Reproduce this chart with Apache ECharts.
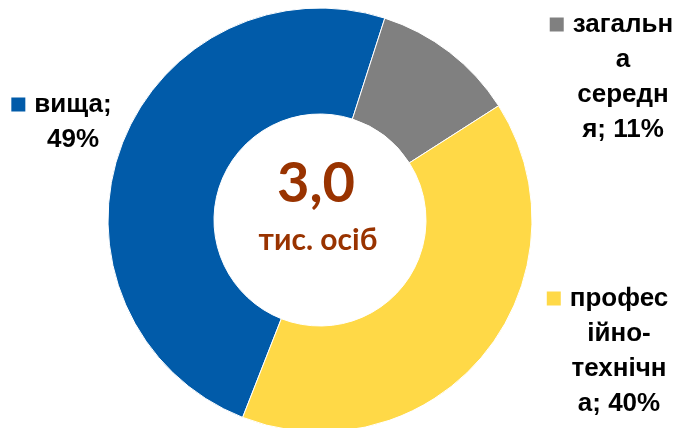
<!DOCTYPE html>
<html>
<head>
<meta charset="utf-8">
<script src="https://cdn.jsdelivr.net/npm/echarts@6/dist/echarts.min.js"></script>
<style>
html,body{margin:0;padding:0;background:#fff;}
#chart{width:683px;height:428px;}
</style>
</head>
<body>
<div id="chart"></div>
<script>
const categories = ['вища', 'загальна середня', 'професійно-технічна'];
const shares = [49, 11, 40];
const colors = ['#015BA9', '#808080', '#FFD947'];
const labelWrap = ['вища;\n{v}%', 'загальн\nа\nсередн\nя; {v}%', 'профес\nійно-\nтехнічн\nа; {v}%'];
const totalText = '3,0';
const unitText = 'тис. осіб';

const labelPos = [
  { x: 73, y: 122 },
  { x: 623, y: 77 },
  { x: 619, y: 351 }
];

const rich = {
  t: { fontFamily: 'Liberation Sans', fontWeight: 'bold', fontSize: 26, color: '#000', lineHeight: 35 },
  gap: { width: 9, height: 14 },
  pad: { width: 23, height: 14 }
};
colors.forEach((c, i) => {
  rich['sq' + i] = { width: 14, height: 14, backgroundColor: c };
});

const chart = echarts.init(document.getElementById('chart'));
chart.setOption({
  animation: false,
  series: [{
    type: 'pie',
    center: [320, 220],
    radius: [106, 212],
    startAngle: 248.6,
    clockwise: true,
    itemStyle: { borderColor: '#fff', borderWidth: 1 },
    label: {
      show: true,
      position: 'outside',
      align: 'center',
      overflow: 'none',
      alignTo: 'none',
      rich: rich,
      formatter: function (p) {
        const lines = labelWrap[p.dataIndex].replace('{v}', p.value).split('\n');
        return lines.map((l, k) => k === 0
          ? '{sq' + p.dataIndex + '|}{gap|}{t|' + l + '}{pad|}'
          : '{t|' + l + '}').join('\n');
      }
    },
    labelLine: { show: false },
    labelLayout: function (p) {
      const pos = labelPos[p.dataIndex];
      return { x: pos.x, y: pos.y, align: 'center', verticalAlign: 'middle', hideOverlap: false };
    },
    emphasis: { disabled: true },
    data: categories.map((c, i) => ({ name: c, value: shares[i], itemStyle: { color: colors[i] } }))
  }],
  graphic: [
    {
      type: 'text', x: 316, y: 184,
      style: { text: totalText, fontFamily: 'Lato', fontWeight: 'bold', fontSize: 56, fill: '#993300', align: 'center', verticalAlign: 'middle' }
    },
    {
      type: 'text', x: 318, y: 240,
      style: { text: unitText, fontFamily: 'Lato', fontWeight: 'bold', fontSize: 30, fill: '#993300', align: 'center', verticalAlign: 'middle' }
    }
  ]
});
</script>
</body>
</html>
